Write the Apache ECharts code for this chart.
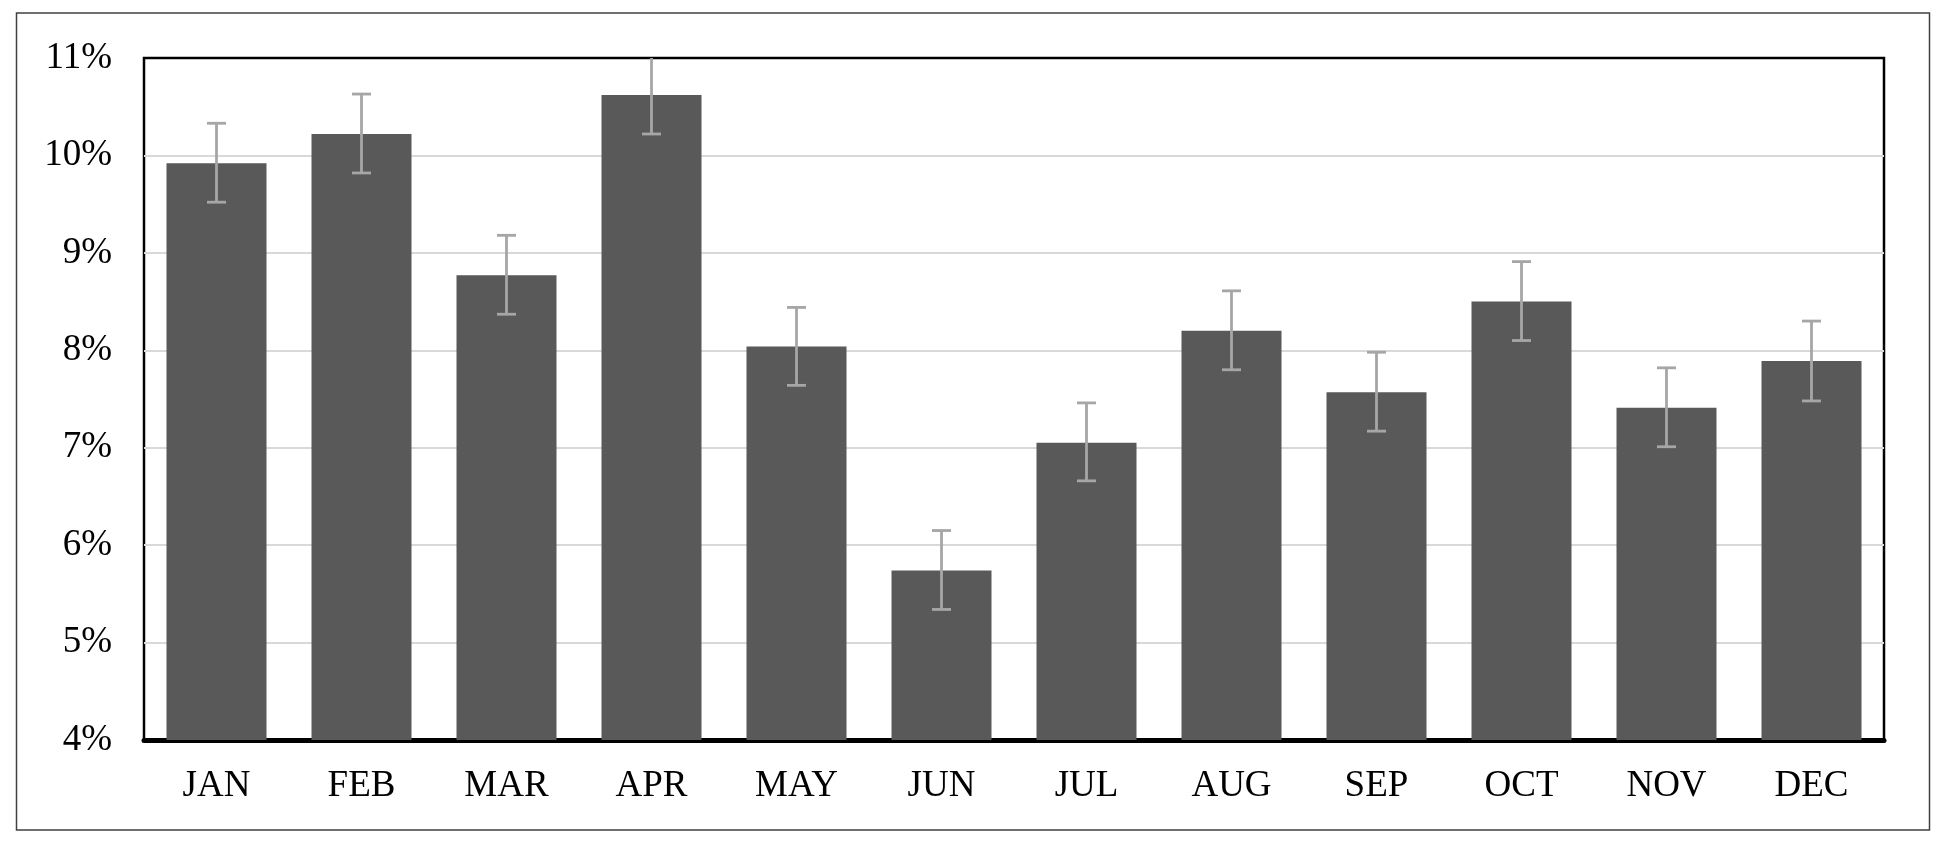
<!DOCTYPE html>
<html>
<head>
<meta charset="utf-8">
<script src="https://cdn.jsdelivr.net/npm/echarts@6/dist/echarts.min.js"></script>
<style>
  html, body { margin: 0; padding: 0; background: #fff; }
  #chart { width: 1944px; height: 848px; }
</style>
</head>
<body>
<div id="chart"></div>
<script>
// months and monthly share (%), with error bar ends
var months = ['JAN', 'FEB', 'MAR', 'APR', 'MAY', 'JUN', 'JUL', 'AUG', 'SEP', 'OCT', 'NOV', 'DEC'];
var values = [9.92, 10.22, 8.77, 10.62, 8.04, 5.74, 7.05, 8.20, 7.57, 8.50, 7.41, 7.89];
var errLow = [9.52, 9.82, 8.37, 10.22, 7.64, 5.34, 6.66, 7.80, 7.17, 8.10, 7.01, 7.48];
var errHigh = [10.33, 10.63, 9.18, 11.02, 8.44, 6.15, 7.46, 8.61, 7.98, 8.91, 7.82, 8.30];
var yTicks = [4, 11, 1]; // min, max, step

var fontFamily = '"Liberation Serif", "Times New Roman", serif';

var errData = [];
for (var i = 0; i < months.length; i++) {
    errData.push([i, errLow[i], errHigh[i]]);
}

var chart = echarts.init(document.getElementById('chart'), null, {renderer: 'canvas'});

var option = {
    backgroundColor: '#fff',
    animation: false,
    grid: {
        left: 144,
        right: 60,
        top: 58,
        bottom: 108,
        show: true,
        borderColor: '#000',
        borderWidth: 2.5,
        backgroundColor: 'transparent'
    },
    graphic: [{
        type: 'rect',
        shape: {x: 16.5, y: 13, width: 1913, height: 817},
        style: {fill: 'none', stroke: '#404040', lineWidth: 1.5},
        z: -1
    }],
    xAxis: {
        type: 'category',
        data: months,
        axisTick: {show: false},
        axisLine: {show: true, lineStyle: {color: '#000', width: 5}},
        axisLabel: {
            color: '#000',
            fontFamily: fontFamily,
            fontSize: 37,
            margin: 28
        }
    },
    yAxis: {
        type: 'value',
        min: yTicks[0],
        max: yTicks[1],
        interval: yTicks[2],
        axisLine: {show: false},
        axisTick: {show: false},
        splitLine: {
            showMinLine: false,
            showMaxLine: false,
            lineStyle: {color: '#d9d9d9', width: 2}
        },
        axisLabel: {
            color: '#000',
            fontFamily: fontFamily,
            fontSize: 37,
            margin: 32,
            formatter: '{value}%'
        }
    },
    series: [
        {
            type: 'bar',
            data: values,
            barWidth: 100,
            itemStyle: {color: '#595959'},
            z: 2
        },
        {
            type: 'custom',
            data: errData,
            clip: true,
            z: 3,
            renderItem: function (params, api) {
                var x = api.value(0);
                var lo = api.coord([x, api.value(1)]);
                var hi = api.coord([x, api.value(2)]);
                var half = 9.5;
                var style = {stroke: '#a6a6a6', lineWidth: 2.8};
                return {
                    type: 'group',
                    children: [
                        {type: 'line', shape: {x1: hi[0], y1: hi[1], x2: lo[0], y2: lo[1]}, style: style},
                        {type: 'line', shape: {x1: hi[0] - half, y1: hi[1], x2: hi[0] + half, y2: hi[1]}, style: style},
                        {type: 'line', shape: {x1: lo[0] - half, y1: lo[1], x2: lo[0] + half, y2: lo[1]}, style: style}
                    ]
                };
            }
        }
    ]
};

chart.setOption(option);
</script>
</body>
</html>
